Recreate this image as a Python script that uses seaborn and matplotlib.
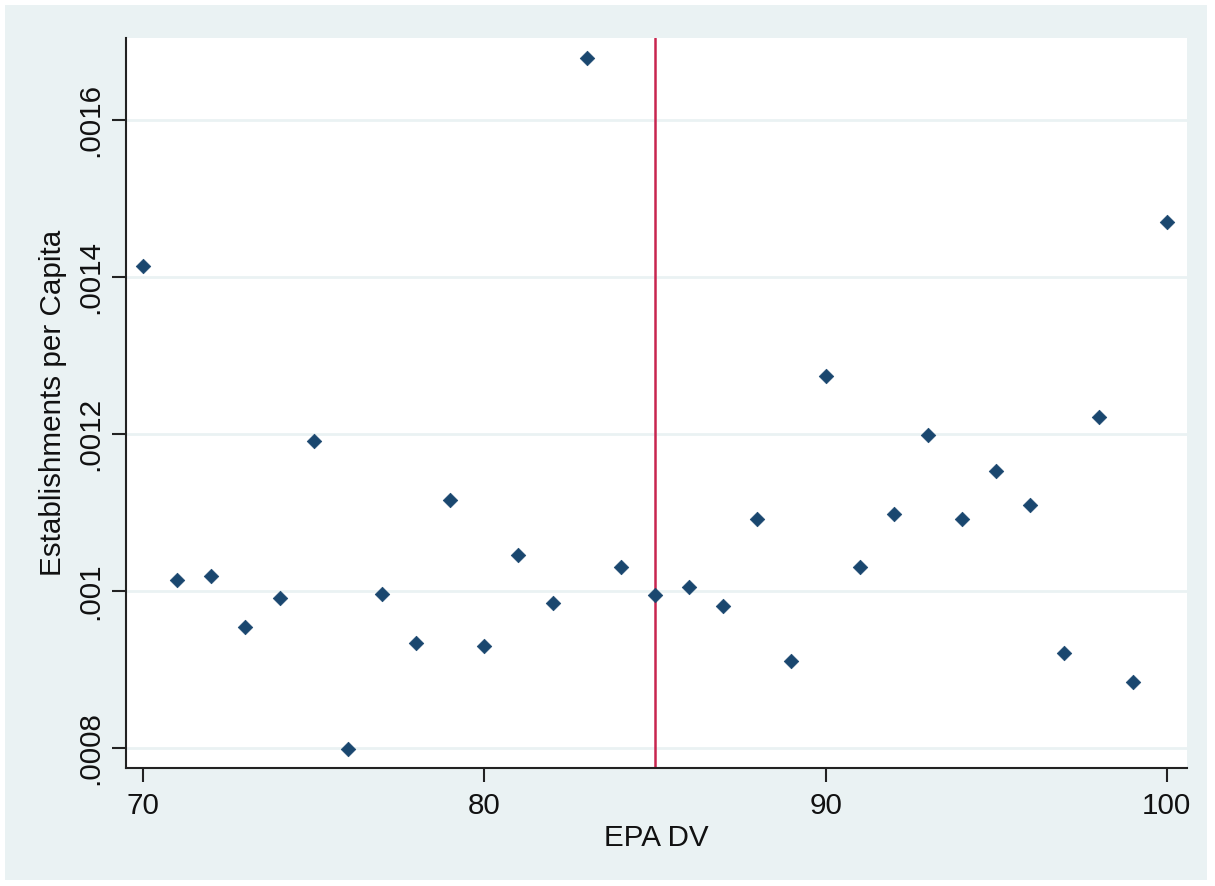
import matplotlib
matplotlib.use("Agg")
import matplotlib.pyplot as plt
import seaborn as sns
import pandas as pd
from matplotlib.patches import Rectangle
from matplotlib.ticker import FuncFormatter

epa_dv = list(range(70, 101))
estab_per_capita = [0.001414, 0.001014, 0.001020, 0.000954, 0.000992, 0.001191, 0.000799,
                    0.000997, 0.000934, 0.001116, 0.000931, 0.001046, 0.000985, 0.001680,
                    0.001031, 0.000995, 0.001005, 0.000982, 0.001092, 0.000911, 0.001275,
                    0.001031, 0.001099, 0.001199, 0.001092, 0.001153, 0.001110, 0.000921,
                    0.001222, 0.000885, 0.001470]
x_ticks = [70, 80, 90, 100]
y_ticks = [0.0008, 0.0010, 0.0012, 0.0014, 0.0016]
cutoff = 85

df = pd.DataFrame({"EPA DV": epa_dv, "Establishments per Capita": estab_per_capita})

sns.set_style("white")
plt.rcParams['font.family'] = ['Liberation Sans', 'DejaVu Sans']

W, H = 1215, 886
fig = plt.figure(figsize=(W / 100, H / 100), dpi=100, facecolor="white")
bg = "#eaf2f3"
fig.patches.append(Rectangle((5 / W, 6 / H), 1202 / W, 875 / H, transform=fig.transFigure,
                             facecolor=bg, edgecolor="none", zorder=-10))

ax = fig.add_axes([126 / W, 1 - 768 / H, (1187 - 126) / W, (768 - 38) / H])
ax.set_zorder(5)
ax.set_facecolor("white")

for yt in y_ticks:
    ax.axhline(yt, color=bg, lw=2, zorder=1)
ax.axvline(cutoff, color="#c8254f", lw=1.8, zorder=2)

sns.scatterplot(data=df, x="EPA DV", y="Establishments per Capita", ax=ax,
                marker="D", s=55, color="#1a476f", edgecolor="#1a476f", linewidth=0.5, zorder=3)

ax.set_xlim(69.50, 100.59)
ax.set_ylim(0.000775, 0.001705)
ax.set_xticks(x_ticks)
ax.set_yticks(y_ticks)

def fmt(v, pos):
    s = f"{v:.4f}".rstrip("0")
    if s.startswith("0"):
        s = s[1:]
    return s

fs = 21.3
ax.yaxis.set_major_formatter(FuncFormatter(fmt))
ax.tick_params(axis="both", which="major", length=10, width=1.5, color="#222222",
               labelsize=fs, labelcolor="#111111", direction="out", left=True, bottom=True)
ax.tick_params(axis="y", pad=6)
ax.tick_params(axis="x", pad=7)
for lab in ax.get_yticklabels():
    lab.set_rotation(90)
    lab.set_va("center")

for side in ["top", "right"]:
    ax.spines[side].set_visible(False)
for side in ["left", "bottom"]:
    ax.spines[side].set_color("#222222")
    ax.spines[side].set_linewidth(1.5)

ax.set_xlabel("EPA DV", fontsize=fs, color="#111111", labelpad=3)
ax.set_ylabel("Establishments per Capita", fontsize=fs, color="#111111", labelpad=6)

fig.savefig("out.png", dpi=100, facecolor="white")
